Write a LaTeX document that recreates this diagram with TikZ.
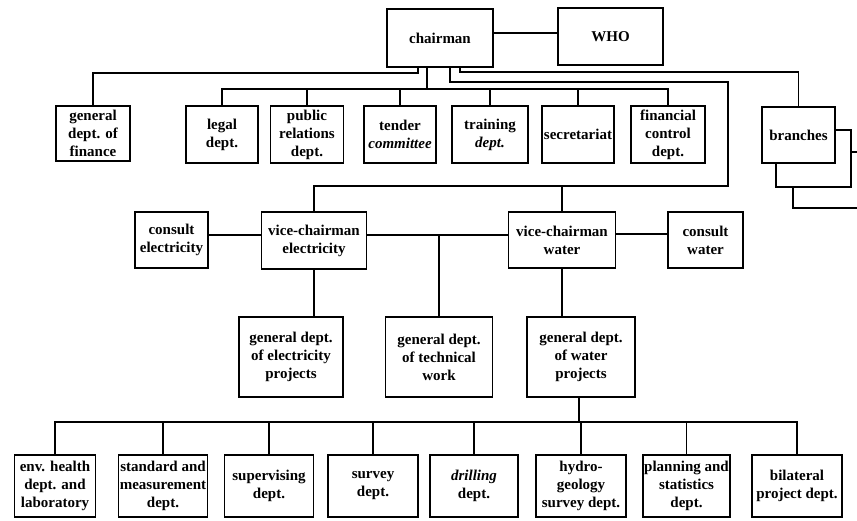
\documentclass[tikz,border=0pt]{standalone}
\usepackage{fontspec}
\setmainfont{Liberation Serif}
\begin{document}
\begin{tikzpicture}[x=1pt,y=-1pt,
  box/.style={draw, line width=1.2pt, fill=white, align=center, inner sep=1pt,
    font=\fontsize{15}{18}\selectfont\bfseries},
  link/.style={line width=1.2pt}]
\useasboundingbox (0,0) rectangle (857,520);
\clip (0,0) rectangle (857,520);
\fill[white] (0,0) rectangle (857,520);

% top
\node[box, minimum width=106, minimum height=58] (chair) at (440,38) {chairman};
\node[box, minimum width=105, minimum height=57] (who) at (610.5,36.5) {WHO};

% first row
\node[box, minimum width=74, minimum height=55] (fin) at (93,133.5) {general\\dept. of\\finance};
\node[box, minimum width=72, minimum height=57] (legal) at (222,134.5) {legal\\dept.};
\node[box, minimum width=73, minimum height=57] (pr) at (307,134.5) {public\\relations\\dept.};
\node[box, minimum width=72, minimum height=57] (tender) at (400,134.5) {tender\\\textit{committee}};
\node[box, minimum width=76, minimum height=57] (train) at (490,134.5) {training\\\textit{dept.}};
\node[box, minimum width=72, minimum height=57] (secr) at (578,134.5) {secretariat};
\node[box, minimum width=74, minimum height=57] (fctl) at (668,134.5) {financial\\control\\dept.};

% branches (stacked)
\node[box, minimum width=77, minimum height=56] (br3) at (831.5,180) {};
\node[box, minimum width=75, minimum height=57] (br2) at (813.5,158.5) {};
\node[box, minimum width=73, minimum height=56] (br) at (798.5,135) {branches};

% vice-chairmen row
\node[box, minimum width=73, minimum height=56] (ce) at (171.5,240) {consult\\electricity};
\node[box, minimum width=105, minimum height=57] (vce) at (314,240.5) {vice-chairman\\electricity};
\node[box, minimum width=107, minimum height=56] (vcw) at (562,240) {vice-chairman\\water};
\node[box, minimum width=75, minimum height=56] (cw) at (705.5,240) {consult\\water};

% general depts
\node[box, minimum width=104, minimum height=80] (ge) at (291,357) {general dept.\\of electricity\\projects};
\node[box, minimum width=107, minimum height=80] (gt) at (439,357) {general dept.\\of technical\\work};
\node[box, minimum width=108, minimum height=80] (gw) at (581,357) {general dept.\\of water\\projects};

% bottom row
\node[box, minimum width=81, minimum height=62] (env) at (55,486) {env. health\\dept. and\\laboratory};
\node[box, minimum width=86, minimum height=62] (std) at (163,486) {standard and\\measurement\\dept.};
\node[box, minimum width=89, minimum height=62] (sup) at (269,486) {supervising\\dept.};
\node[box, minimum width=90, minimum height=62] (sur) at (373,486) {survey\\dept.};
\node[box, minimum width=88, minimum height=62] (dri) at (474,486) {\textit{drilling}\\dept.};
\node[box, minimum width=90, minimum height=62] (hyd) at (581,486) {hydro-\\geology\\survey dept.};
\node[box, minimum width=87, minimum height=62] (pla) at (686.5,486) {planning and\\statistics\\dept.};
\node[box, minimum width=90, minimum height=62] (bil) at (797,486) {bilateral\\project dept.};

% routing points
\coordinate (f1) at (418,73);
\coordinate (t1) at (427,89);
\coordinate (v1) at (450,82);
\coordinate (v2) at (728,186);
\coordinate (b1) at (460,72);
\coordinate (bb) at (579,422);

% connectors
\draw[link] (chair.east |- 0,33) -- (who.west |- 0,33);
\draw[link] (chair.south -| f1) -- (f1) -| (fin.north);
\draw[link] (chair.south -| t1) -- (t1);
\draw[link] (legal.north) |- (t1) -| (fctl.north);
\draw[link] (pr.north) -- (pr.north |- t1);
\draw[link] (tender.north) -- (tender.north |- t1);
\draw[link] (train.north) -- (train.north |- t1);
\draw[link] (secr.north) -- (secr.north |- t1);
\draw[link] (chair.south -| b1) -- (b1) -| (br.north);
\draw[link] (chair.south -| v1) -- (v1) -| (v2) -| (vce.north);
\draw[link] (vcw.north) -- (vcw.north |- v2);

\draw[link] (ce.east |- 0,235) -- (vce.west |- 0,235);
\draw[link] (vce.east |- 0,235) -- (vcw.west |- 0,235);
\draw[link] (vcw.east |- 0,234) -- (cw.west |- 0,234);
\draw[link] (gt.north) -- (gt.north |- 0,235);
\draw[link] (vce.south) -- (vce.south |- ge.north);
\draw[link] (vcw.south) -- (vcw.south |- gw.north);

\draw[link] (gw.south -| bb) -- (bb);
\draw[link] (env.north) |- (bb) -| (bil.north);
\draw[link] (std.north) -- (std.north |- bb);
\draw[link] (sup.north) -- (sup.north |- bb);
\draw[link] (sur.north) -- (sur.north |- bb);
\draw[link] (dri.north) -- (dri.north |- bb);
\draw[link] (hyd.north) -- (hyd.north |- bb);
\draw[link] (pla.north) -- (pla.north |- bb);
\end{tikzpicture}
\end{document}
